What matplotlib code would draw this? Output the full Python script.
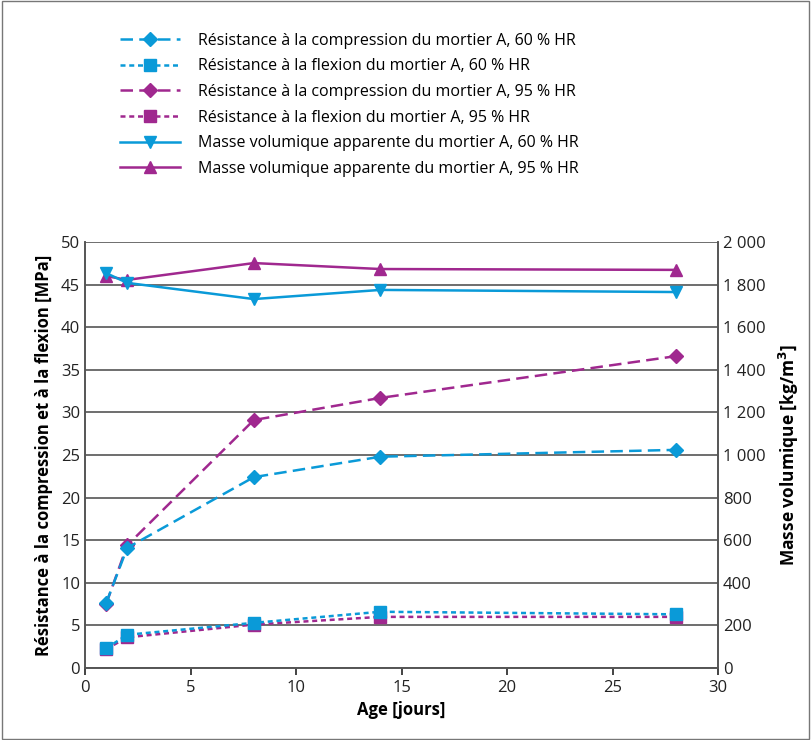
import matplotlib
matplotlib.use("Agg")
import matplotlib.pyplot as plt
from matplotlib.patches import Rectangle
from matplotlib.ticker import FuncFormatter, MultipleLocator

# ========= DONNÉES ==========
age = [1, 2, 8, 14, 28]
compression_60 = [7.6, 14.1, 22.4, 24.8, 25.6]
flexion_60 = [2.3, 3.9, 5.3, 6.6, 6.3]
compression_95 = [7.5, 14.4, 29.1, 31.7, 36.6]
flexion_95 = [2.2, 3.6, 5.1, 6.0, 6.0]
masse_60 = [1854, 1808, 1732, 1775, 1765]
masse_95 = [1840, 1822, 1901, 1873, 1869]

labels = [
    "Résistance à la compression du mortier A, 60 % HR",
    "Résistance à la flexion du mortier A, 60 % HR",
    "Résistance à la compression du mortier A, 95 % HR",
    "Résistance à la flexion du mortier A, 95 % HR",
    "Masse volumique apparente du mortier A, 60 % HR",
    "Masse volumique apparente du mortier A, 95 % HR",
]
# ============================

BLEU = "#0a9ad8"
VIOLET = "#a0288f"

plt.rcParams["font.family"] = ["Open Sans", "DejaVu Sans"]

fig = plt.figure(figsize=(8.11, 7.40), dpi=100)
ax = fig.add_axes([0.1048, 0.0973, 0.7806, 0.5757])
ax2 = ax.twinx()

dash_long = (0, (5, 2.5))
dash_court = (0, (2, 1.5))

l3, = ax.plot(age, compression_95, color=VIOLET, lw=1.8, ls=dash_long, marker="D", ms=7, label=labels[2], zorder=3)
l1, = ax.plot(age, compression_60, color=BLEU, lw=1.8, ls=dash_long, marker="D", ms=7, label=labels[0], zorder=4)
l4, = ax.plot(age, flexion_95, color=VIOLET, lw=1.8, ls=dash_court, marker="s", ms=8, label=labels[3], zorder=3)
l2, = ax.plot(age, flexion_60, color=BLEU, lw=1.8, ls=dash_court, marker="s", ms=8, label=labels[1], zorder=4)
l6, = ax2.plot(age, masse_95, color=VIOLET, lw=1.8, marker="^", ms=9, label=labels[5])
l5, = ax2.plot(age, masse_60, color=BLEU, lw=1.8, marker="v", ms=9, label=labels[4])

ax.set_xlim(0, 30)
ax.set_ylim(0, 50)
ax2.set_ylim(0, 2000)
ax.xaxis.set_major_locator(MultipleLocator(5))
ax.yaxis.set_major_locator(MultipleLocator(5))
ax2.yaxis.set_major_locator(MultipleLocator(200))
ax2.yaxis.set_major_formatter(FuncFormatter(lambda v, p: f"{int(v):,}".replace(",", " ")))

ax.grid(axis="y", color="#555555", lw=1.2)
ax.set_axisbelow(True)
for a in (ax, ax2):
    a.spines["top"].set_visible(False)
    for s in ("left", "right", "bottom"):
        a.spines[s].set_color("#555555")
        a.spines[s].set_linewidth(1.2)
    a.tick_params(labelsize=12, colors="#222222", length=5, width=1.2, direction="out")
ax.tick_params(axis="y", length=0)
ax2.tick_params(axis="y", length=0)

ax.set_xlabel("Age [jours]", fontsize=12, fontweight="bold", labelpad=4)
ax.set_ylabel("Résistance à la compression et à la flexion [MPa]", fontsize=12, fontweight="bold", labelpad=6)
ax2.set_ylabel("Masse volumique [kg/m$^\\mathbf{3}$]", fontsize=12.5, fontweight="bold", labelpad=8)

fig.legend(handles=[l1, l2, l3, l4, l5, l6], loc="upper left", bbox_to_anchor=(0.13, 0.975),
           frameon=False, fontsize=11.5, handlelength=3.8, handletextpad=1.1, labelspacing=0.6)

fig.patches.append(Rectangle((0.002, 0.002), 0.996, 0.996, transform=fig.transFigure,
                             fill=False, edgecolor="#777777", lw=1))

fig.savefig("out.png", dpi=100)
